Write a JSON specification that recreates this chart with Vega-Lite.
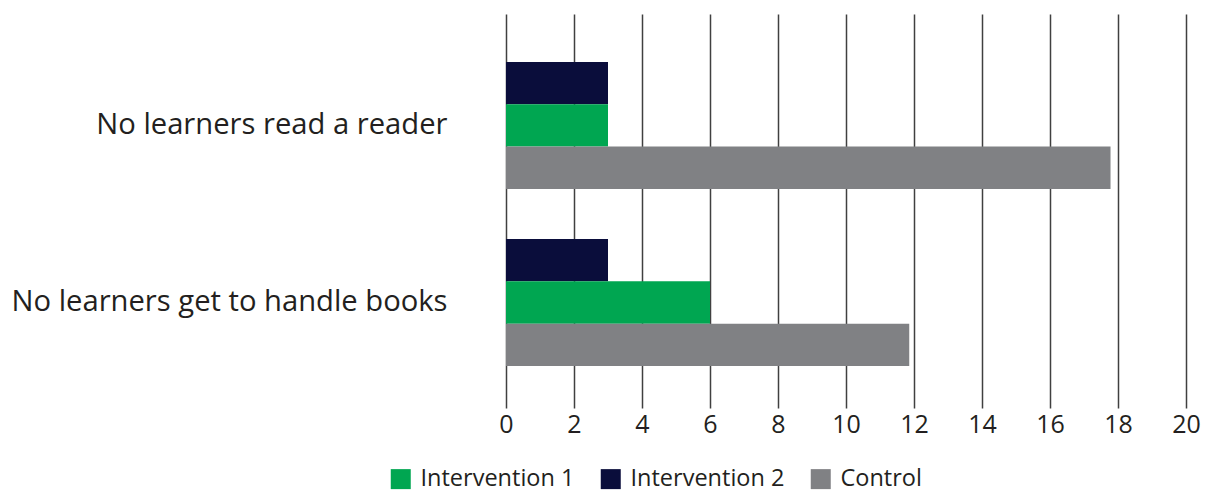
{
  "$schema": "https://vega.github.io/schema/vega-lite/v6.json",
  "autosize": "none",
  "width": 680,
  "height": 394,
  "padding": {"left": 506, "top": 14, "right": 25, "bottom": 86},
  "background": "white",
  "config": {
    "font": "Open Sans",
    "view": {"stroke": null}
  },
  "data": {
    "values": [
      {"category": "No learners read a reader", "series": "Intervention 2", "value": 3},
      {"category": "No learners read a reader", "series": "Intervention 1", "value": 3},
      {"category": "No learners read a reader", "series": "Control", "value": 17.78},
      {"category": "No learners get to handle books", "series": "Intervention 2", "value": 3},
      {"category": "No learners get to handle books", "series": "Intervention 1", "value": 6},
      {"category": "No learners get to handle books", "series": "Control", "value": 11.86}
    ]
  },
  "mark": {"type": "bar"},
  "encoding": {
    "y": {
      "field": "category",
      "type": "nominal",
      "sort": ["No learners read a reader", "No learners get to handle books"],
      "scale": {"paddingInner": 0.2825, "paddingOuter": 0.254, "align": 0.533},
      "axis": {
        "title": null,
        "domain": false,
        "ticks": false,
        "labelFontSize": 29.2,
        "labelColor": "#231f20",
        "labelPadding": 59,
        "labelLimit": 600
      }
    },
    "yOffset": {
      "field": "series",
      "type": "nominal",
      "scale": {"domain": ["Intervention 2", "Intervention 1", "Control"], "paddingInner": 0, "paddingOuter": 0}
    },
    "x": {
      "field": "value",
      "type": "quantitative",
      "scale": {"domain": [0, 20], "nice": false},
      "axis": {
        "title": null,
        "domain": false,
        "ticks": false,
        "values": [0, 2, 4, 6, 8, 10, 12, 14, 16, 18, 20],
        "grid": true,
        "gridColor": "#404040",
        "gridWidth": 1.5,
        "labelFontSize": 25,
        "labelColor": "#231f20",
        "labelPadding": 4,
        "labelFlush": false
      }
    },
    "color": {
      "field": "series",
      "type": "nominal",
      "scale": {
        "domain": ["Intervention 1", "Intervention 2", "Control"],
        "range": ["#00a651", "#0a0d3b", "#808184"]
      },
      "legend": {
        "title": null,
        "orient": "none",
        "direction": "horizontal",
        "legendX": -117,
        "legendY": 453,
        "symbolType": "square",
        "symbolSize": 400,
        "symbolStrokeWidth": 0,
        "labelFontSize": 23.5,
        "labelLimit": 400,
        "labelColor": "#231f20",
        "columnPadding": 24,
        "labelOffset": 8
      }
    }
  }
}
